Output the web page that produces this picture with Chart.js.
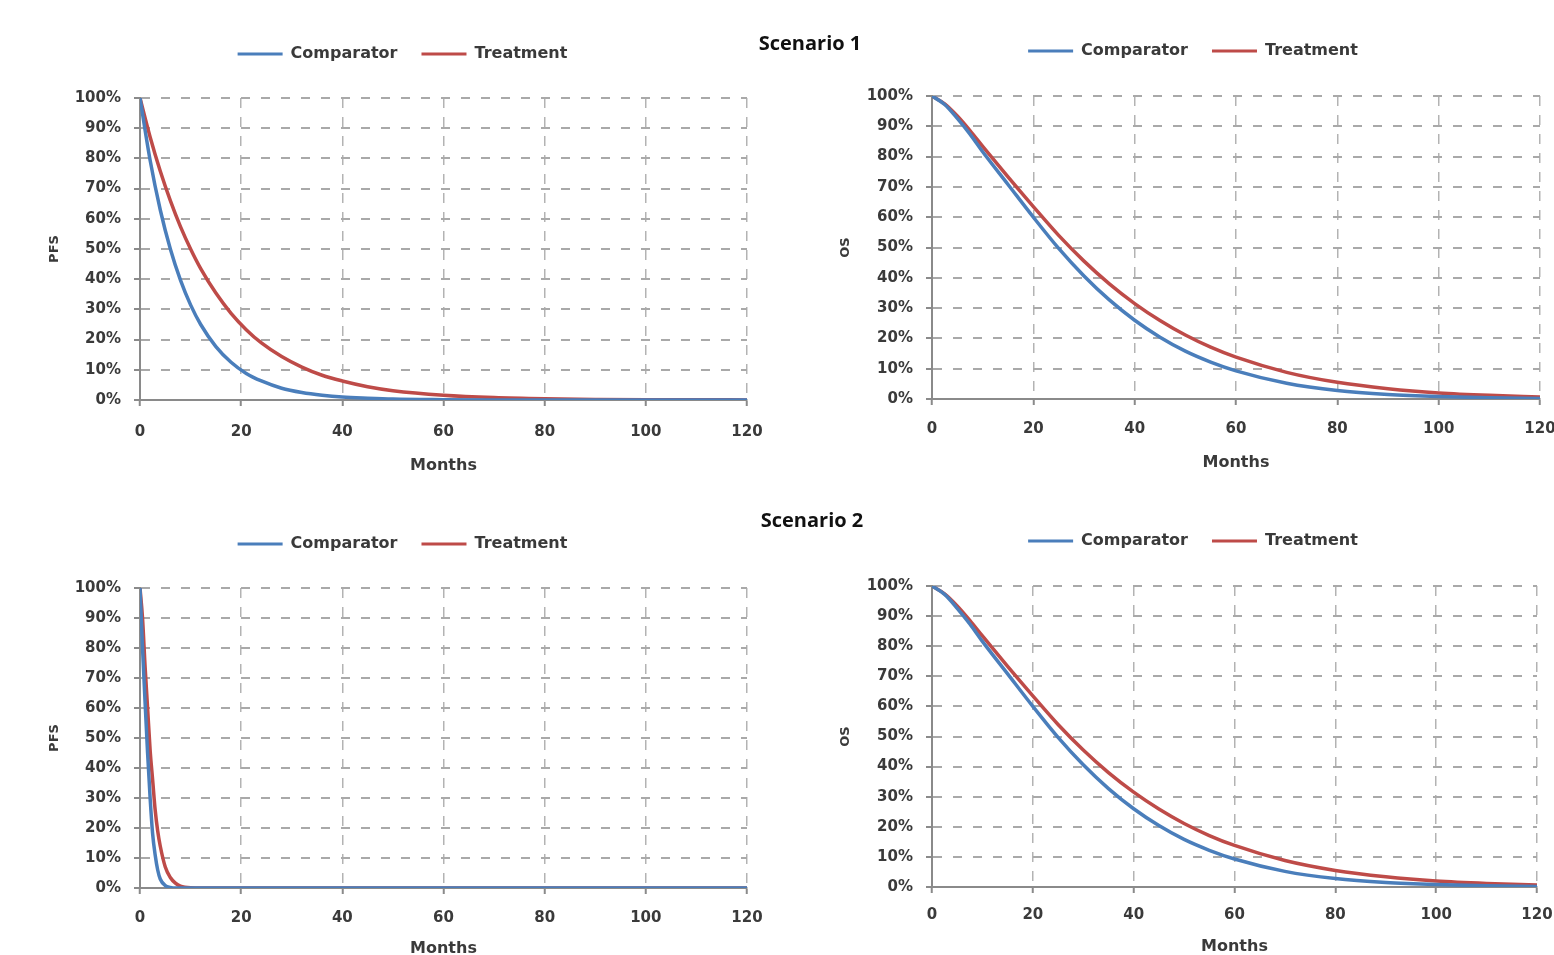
<!DOCTYPE html>
<html>
<head>
<meta charset="utf-8">
<title>Scenario 1 / Scenario 2 - PFS and OS</title>
<script src="https://cdn.jsdelivr.net/npm/chart.js@4.4.0/dist/chart.umd.min.js"></script>
<style>
  html, body { margin: 0; padding: 0; background: #fff; width: 1554px; height: 955px; overflow: hidden; }
  canvas { position: absolute; }
  .scenario {
    position: absolute; z-index: 2; white-space: nowrap;
    font-family: 'Open Sans', sans-serif; font-weight: bold; font-size: 20px; color: #111;
    transform: translate(-50%, -50%);
  }
</style>
</head>
<body>
<div class="scenario" style="left:810px; top:42px;">Scenario 1</div>
<div class="scenario" style="left:812px; top:519px;">Scenario 2</div>
<canvas id="pfs1"></canvas>
<canvas id="os1"></canvas>
<canvas id="pfs2"></canvas>
<canvas id="os2"></canvas>
<script>
// Scenario 1 - PFS (months, % surviving)
const pfsMonths1 = [0, 2, 4, 6, 8, 10, 12, 15, 18, 21, 24, 28, 32, 36, 40, 45, 50, 60, 70, 80, 90, 100, 110, 120];
const pfsComparator1 = [100, 79.4, 63, 50, 39.7, 31.5, 25, 17.7, 12.5, 8.8, 6.3, 3.9, 2.5, 1.6, 1, 0.6, 0.3, 0.1, 0, 0, 0, 0, 0, 0];
const pfsTreatment1 = [100, 87.1, 75.8, 66, 57.4, 50, 43.5, 35.4, 28.7, 23.3, 18.9, 14.4, 10.9, 8.2, 6.3, 4.4, 3.1, 1.6, 0.8, 0.4, 0.2, 0.1, 0.1, 0];

// Scenario 2 - PFS
const pfsMonths2 = [0, 0.5, 1, 1.5, 2, 2.5, 3, 3.5, 4, 5, 6, 7, 8, 10, 15, 20, 40, 60, 80, 100, 120];
const pfsComparator2 = [100, 80, 62, 45, 30, 18, 11, 6, 3, 0.8, 0.2, 0, 0, 0, 0, 0, 0, 0, 0, 0, 0];
const pfsTreatment2 = [100, 90, 74, 60, 46, 36, 26, 19, 14, 7, 3.5, 1.6, 0.6, 0.1, 0, 0, 0, 0, 0, 0, 0];

// OS (looks the same in both scenarios)
const osMonths = [0, 2.5, 5, 7.5, 10, 15, 20, 25, 30, 35, 40, 45, 50, 55, 60, 70, 80, 90, 100, 110, 120];
const osComparator = [100, 97.2, 92.6, 87.4, 81.6, 70.8, 60, 49.7, 40.6, 32.7, 26, 20.4, 15.8, 12.2, 9.3, 5.2, 2.8, 1.5, 0.8, 0.4, 0.2];
const osTreatment = [100, 97.4, 93.4, 88.6, 83.4, 73.3, 63.5, 54, 45.5, 38, 31.5, 25.9, 21.1, 17.1, 13.8, 8.8, 5.5, 3.4, 2, 1.2, 0.7];

const seriesNames = ['Comparator', 'Treatment'];
const xTicks = [0, 20, 40, 60, 80, 100, 120];
const yTicks = [0, 10, 20, 30, 40, 50, 60, 70, 80, 90, 100];

const BLUE = '#4a7ebb';
const RED = '#be4b48';
const TEXT = '#3a3a3a';
const AXIS = '#8a8a8a';

function toPoints(xs, ys) {
  return xs.map((x, i) => ({ x: x, y: ys[i] }));
}

// legend height is forced so the plot area lands where it should
const legendHeight = {
  id: 'legendHeight',
  beforeUpdate(chart, args, opts) {
    const lg = chart.legend;
    if (!lg || lg._fixedFit) return;
    const fit = lg.fit;
    lg.fit = function () { fit.call(this); this.height = opts.height; };
    lg._fixedFit = true;
  }
};

function makeChart(g, months, comp, treat, yTitle) {
  const canvas = document.getElementById(g.id);
  canvas.width = g.width;
  canvas.height = g.height;
  canvas.style.left = g.left + 'px';
  canvas.style.top = g.top + 'px';

  return new Chart(canvas, {
    type: 'line',
    data: {
      datasets: [
        { label: seriesNames[0], data: toPoints(months, comp), borderColor: BLUE, backgroundColor: BLUE },
        { label: seriesNames[1], data: toPoints(months, treat), borderColor: RED, backgroundColor: RED }
      ]
    },
    plugins: [legendHeight],
    options: {
      responsive: false,
      animation: false,
      devicePixelRatio: 1,
      layout: { padding: { top: g.padTop, left: 0, right: 0, bottom: 0 } },
      elements: {
        point: { radius: 0, hoverRadius: 0 },
        line: { borderWidth: 3.5, cubicInterpolationMode: 'monotone' }
      },
      plugins: {
        legendHeight: { height: g.legendH },
        tooltip: { enabled: false },
        legend: {
          position: 'top',
          labels: {
            boxWidth: 45,
            boxHeight: 3,
            padding: 24,
            color: TEXT,
            font: { family: 'DejaVu Sans', size: 16, weight: 'bold' },
            generateLabels: function (chart) {
              return Chart.defaults.plugins.legend.labels.generateLabels(chart)
                .map(l => Object.assign(l, { lineWidth: 0, fillStyle: l.strokeStyle }));
            }
          }
        }
      },
      scales: {
        x: {
          type: 'linear',
          min: 0,
          max: 120,
          afterBuildTicks: s => { s.ticks = xTicks.map(v => ({ value: v })); },
          afterFit: s => { s.height = g.xHeight; s.paddingRight = g.xPadRight; },
          grid: { color: '#b3b3b3', lineWidth: 1.5, tickLength: 6, tickColor: AXIS, tickWidth: 2 },
          border: { display: true, color: AXIS, width: 2, dash: [10, 9] },
          ticks: {
            padding: g.xTickPad,
            maxRotation: 0,
            color: TEXT,
            font: { family: 'DejaVu Sans', size: 15, weight: 'bold' }
          },
          title: {
            display: true,
            text: 'Months',
            color: TEXT,
            padding: { top: 0, bottom: g.titlePadBottom },
            font: { family: 'DejaVu Sans', size: 16, weight: 'bold' }
          }
        },
        y: {
          min: 0,
          max: 100,
          afterBuildTicks: s => { s.ticks = yTicks.map(v => ({ value: v })); },
          afterFit: s => { s.width = 100; },
          grid: { color: '#a9a9a9', lineWidth: 2, tickLength: 6, tickColor: AXIS, tickWidth: 2 },
          border: { display: true, color: AXIS, width: 2, dash: [9, 11] },
          ticks: {
            padding: 13,
            color: TEXT,
            font: { family: 'DejaVu Sans', size: 15, weight: 'bold' },
            callback: v => v + '%'
          },
          title: {
            display: true,
            text: yTitle,
            color: TEXT,
            padding: { top: g.yTitlePad, bottom: 0 },
            font: { family: 'DejaVu Sans', size: 13, weight: 'bold' }
          }
        }
      }
    }
  });
}

makeChart({ id: 'pfs1', left: 40, top: 15, width: 725, height: 465, padTop: 7, legendH: 76,
            xHeight: 80, xPadRight: 18, xTickPad: 17, titlePadBottom: 5, yTitlePad: 7 },
          pfsMonths1, pfsComparator1, pfsTreatment1, 'PFS');

makeChart({ id: 'os1', left: 832, top: 15, width: 722, height: 465, padTop: 4, legendH: 77,
            xHeight: 81, xPadRight: 14, xTickPad: 15, titlePadBottom: 8, yTitlePad: 6 },
          osMonths, osComparator, osTreatment, 'OS');

makeChart({ id: 'pfs2', left: 40, top: 505, width: 725, height: 475, padTop: 7, legendH: 76,
            xHeight: 92, xPadRight: 18, xTickPad: 15, titlePadBottom: 22, yTitlePad: 7 },
          pfsMonths2, pfsComparator2, pfsTreatment2, 'PFS');

makeChart({ id: 'os2', left: 832, top: 505, width: 722, height: 475, padTop: 4, legendH: 77,
            xHeight: 93, xPadRight: 17, xTickPad: 13, titlePadBottom: 24, yTitlePad: 6 },
          osMonths, osComparator, osTreatment, 'OS');
</script>
</body>
</html>
